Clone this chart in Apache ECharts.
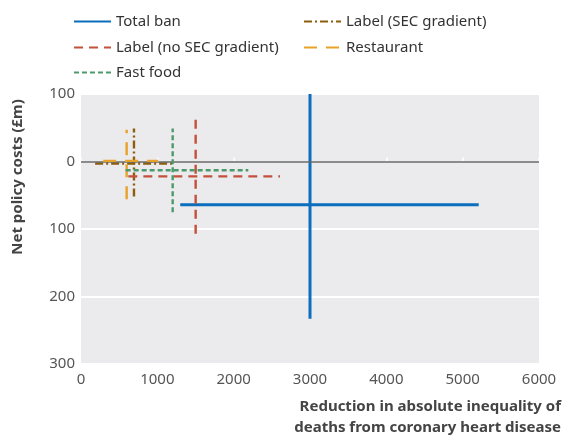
<!DOCTYPE html>
<html>
<head>
<meta charset="utf-8">
<script src="https://cdn.jsdelivr.net/npm/echarts@6/dist/echarts.min.js"></script>
<style>html,body{margin:0;padding:0;background:#fff}#c{width:574px;height:439px}</style>
</head>
<body>
<div id="c"></div>
<script>
const names = ['Total ban', 'Label (SEC gradient)', 'Label (no SEC gradient)', 'Restaurant', 'Fast food'];
// Reduction in inequality of CHD deaths (point estimate and range)
const xMid  = [3000, 694, 1502, 598, 1201];
const xLow  = [1300, 185, 620, 290, 585];
const xHigh = [5210, 1195, 2607, 1012, 2192];
// Net policy costs (£m); negative = savings
const yMid  = [-64, -3, -22, 1, -13];
const yLow  = [-233, -52, -107, -56, -75];
const yHigh = [100, 49, 62, 47, 49];
const xTicks = [0, 1000, 2000, 3000, 4000, 5000, 6000];
const yTicks = [-300, -200, -100, 0, 100];

const colors = ['#0A6EBD', '#8C5E0B', '#C4503B', '#E9A229', '#4C9A6C'];
const widths = [3, 2.4, 2.4, 2.4, 2.4];
const dashes = ['solid', [8, 3, 2, 3], [9, 6], [13, 9], [5, 3]];

const FONT = 'Noto Sans';
const series = [];
names.forEach((n, i) => {
  const ls = { color: colors[i], width: widths[i], type: dashes[i], cap: 'butt' };
  series.push({
    name: n, type: 'line', symbol: 'none', showSymbol: false, z: 3 + i, silent: true,
    lineStyle: ls, itemStyle: { color: colors[i] },
    data: [[xLow[i], yMid[i]], [xHigh[i], yMid[i]]]
  });
  series.push({
    name: n, type: 'line', symbol: 'none', showSymbol: false, z: 3 + i, silent: true,
    lineStyle: ls, itemStyle: { color: colors[i] },
    data: [[xMid[i], yLow[i]], [xMid[i], yHigh[i]]]
  });
});
series[0].markLine = {
  silent: true, symbol: 'none', label: { show: false },
  lineStyle: { color: '#666', width: 1.5, type: 'solid' },
  data: [{ yAxis: 0 }]
};
series[0].z = 2;

const legendPos = [[73, 14], [303, 14], [73, 40], [303, 40], [73, 65]];
const legends = names.map((n, i) => ({
  show: true, orient: 'horizontal', padding: 0,
  data: [{ name: n }], left: legendPos[i][0], top: legendPos[i][1],
  itemWidth: 37, itemHeight: 14,
  itemStyle: { opacity: 0 },
  textStyle: { fontFamily: FONT, fontSize: 15, color: '#333' },
  selectedMode: false
}));

const chart = echarts.init(document.getElementById('c'), null, { renderer: 'canvas' });
chart.setOption({
  animation: false,
  backgroundColor: '#fff',
  legend: legends,
  grid: { left: 81, right: 35, top: 94, bottom: 75, show: true, backgroundColor: '#EBEBED', borderWidth: 0, containLabel: false },
  xAxis: {
    type: 'value', min: xTicks[0], max: xTicks[xTicks.length - 1], interval: 1000,
    axisLine: { show: false },
    axisTick: { show: true, inside: true, length: 4, lineStyle: { color: '#fff', width: 1.5 } },
    splitLine: { show: false },
    axisLabel: { fontFamily: FONT, fontSize: 15, color: '#555', margin: 8, formatter: v => String(v) }
  },
  yAxis: {
    type: 'value', min: yTicks[0], max: yTicks[yTicks.length - 1], interval: 100,
    axisLine: { show: false }, axisTick: { show: false },
    splitLine: { show: true, lineStyle: { color: '#fff', width: 2 } },
    axisLabel: { fontFamily: FONT, fontSize: 15, color: '#555', margin: 6, formatter: v => String(Math.abs(v)) }
  },
  graphic: [
    { type: 'text', x: 18, y: 177, rotation: Math.PI / 2,
      style: { text: 'Net policy costs (£m)', font: 'bold 15px "' + FONT + '"', fill: '#444', textAlign: 'center', textVerticalAlign: 'middle' } },
    { type: 'text', x: 561, y: 396,
      style: { text: 'Reduction in absolute inequality of\ndeaths from coronary heart disease', font: 'bold 15px "' + FONT + '"', fill: '#444', textAlign: 'right', textVerticalAlign: 'top', lineHeight: 21 } }
  ],
  series: series
});
</script>
</body>
</html>
